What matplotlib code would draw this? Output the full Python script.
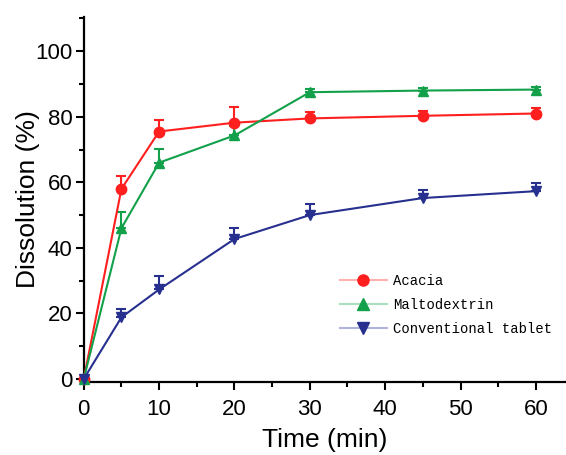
import matplotlib
matplotlib.use("Agg")
import matplotlib.pyplot as plt
from matplotlib.lines import Line2D
from matplotlib.ticker import MultipleLocator

time = [0, 5, 10, 20, 30, 45, 60]
acacia = [0, 58.0, 75.5, 78.2, 79.5, 80.3, 81.0]
acacia_err = [0, 4.0, 3.5, 4.8, 2.0, 1.6, 1.8]
malto = [0, 46.0, 66.0, 74.3, 87.5, 88.0, 88.3]
malto_err = [0, 5.0, 4.3, 3.0, 0.9, 0.9, 0.8]
conv = [0, 18.8, 27.3, 42.7, 50.0, 55.2, 57.3]
conv_err = [0, 2.5, 4.2, 3.5, 3.5, 2.6, 2.4]
labels = ["Acacia", "Maltodextrin", "Conventional tablet"]

colors = ["#ff1f1f", "#12a04a", "#27308f"]
pale = ["#ffb0b0", "#a8e0bd", "#b0b4dc"]
markers = ["o", "^", "v"]

plt.rcParams['font.family'] = ['Liberation Sans', 'DejaVu Sans']
fig = plt.figure(figsize=(5.66, 4.55), dpi=100)
ax = fig.add_axes([0.148, 0.160, 0.852, 0.803])

series = [(acacia, acacia_err), (malto, malto_err), (conv, conv_err)]
for (vals, err), c, m in zip(series, colors, markers):
    ax.errorbar(time, vals, yerr=[[0]*len(err), err], color=c, marker=m,
                markersize=7.5, linewidth=1.5, elinewidth=1.5, capsize=3.8,
                capthick=1.5, clip_on=False, zorder=3)

ax.set_xlim(0, 64)
ax.set_ylim(-1, 110.5)
ax.xaxis.set_major_locator(MultipleLocator(10))
ax.xaxis.set_minor_locator(MultipleLocator(5))
ax.yaxis.set_major_locator(MultipleLocator(20))
ax.yaxis.set_minor_locator(MultipleLocator(10))
ax.set_yticks([0, 20, 40, 60, 80, 100])
for s in ["top", "right"]:
    ax.spines[s].set_visible(False)
for s in ["left", "bottom"]:
    ax.spines[s].set_linewidth(1.6)
ax.tick_params(which="major", direction="out", length=6, width=1.5, labelsize=16)
ax.tick_params(which="minor", direction="out", length=3.5, width=1.5)
ax.tick_params(axis="x", which="major", pad=6)
ax.tick_params(axis="y", which="major", pad=2)
ax.set_xlabel("Time (min)", fontsize=19, labelpad=6)
ax.set_ylabel("Dissolution (%)", fontsize=19, labelpad=-3)

handles = [Line2D([0], [0], color=p, marker=m, markerfacecolor=c, markeredgecolor=c,
                  markersize=8, linewidth=1.5) for p, c, m in zip(pale, colors, markers)]
ax.legend(handles, labels, loc="upper left", bbox_to_anchor=(0.531, 0.296),
          frameon=False, prop={"family": "Liberation Mono", "size": 10},
          handlelength=3.4, handletextpad=0.43, labelspacing=0.72,
          borderaxespad=0, borderpad=0)

fig.savefig("out.png", dpi=100)
